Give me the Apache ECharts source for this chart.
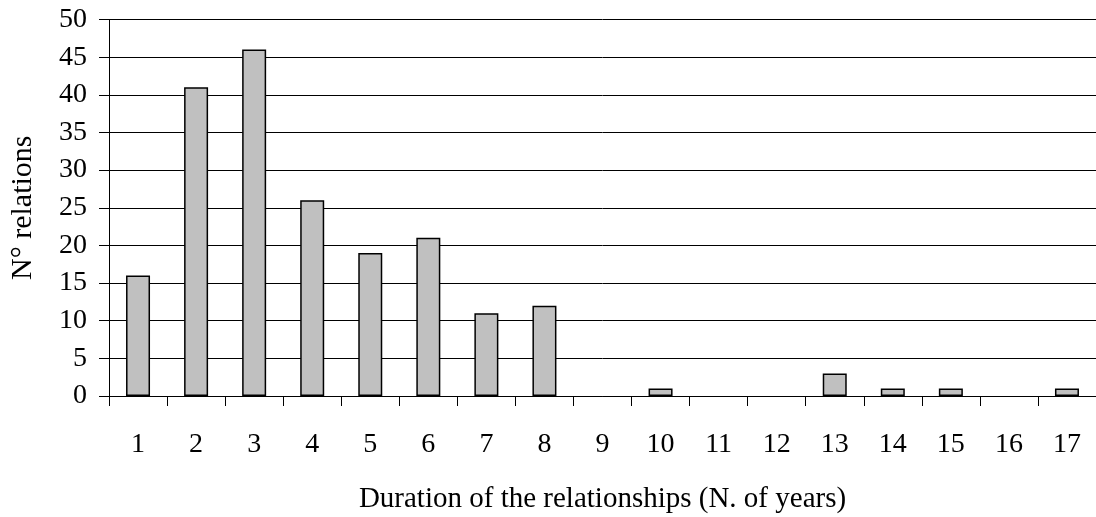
<!DOCTYPE html>
<html><head><meta charset="utf-8">
<script src="https://cdn.jsdelivr.net/npm/echarts@6/dist/echarts.min.js"></script>
<style>html,body{margin:0;padding:0;background:#fff}#c{width:1096px;height:517px}</style>
</head><body><div id="c"></div>
<script>
const categories = ['1','2','3','4','5','6','7','8','9','10','11','12','13','14','15','16','17'];
const values = [16,41,46,26,19,21,11,12,0,1,0,0,3,1,1,0,1];
const yTicks = {min:0, max:50, interval:5};
const xTitle = 'Duration of the relationships (N. of years)';
const yTitle = 'N° relations';

const font = 'Liberation Serif';
const chart = echarts.init(document.getElementById('c'), null, {renderer:'canvas'});
chart.setOption({
  animation:false,
  backgroundColor:'#fff',
  grid:{left:109, right:0, top:19.5, bottom:121, containLabel:false, outerBoundsMode:'none'},
  xAxis:{
    type:'category', data:categories, boundaryGap:true,
    name:xTitle, nameLocation:'middle', nameGap:89,
    nameTextStyle:{fontFamily:font, fontSize:29, color:'#000'},
    axisLine:{lineStyle:{color:'#000', width:1}},
    axisTick:{show:true, length:10, lineStyle:{color:'#000'}, alignWithLabel:false},
    axisLabel:{fontFamily:font, fontSize:28, color:'#000', margin:35, interval:0}
  },
  yAxis:{
    type:'value', min:yTicks.min, max:yTicks.max, interval:yTicks.interval,
    name:yTitle, nameLocation:'middle', nameGap:71,
    nameTextStyle:{fontFamily:font, fontSize:30, color:'#000'},
    axisLine:{show:true, lineStyle:{color:'#000', width:1}},
    axisTick:{show:true, length:10, lineStyle:{color:'#000'}},
    axisLabel:{fontFamily:font, fontSize:28, color:'#000', margin:22},
    splitLine:{show:true, lineStyle:{color:'#000', width:1}}
  },
  series:[{
    type:'bar', data:values.map(v => v === 0 ? null : v), barWidth:24,
    itemStyle:{color:'#c0c0c0', borderColor:'#000', borderWidth:1.5}
  }]
});
</script></body></html>
